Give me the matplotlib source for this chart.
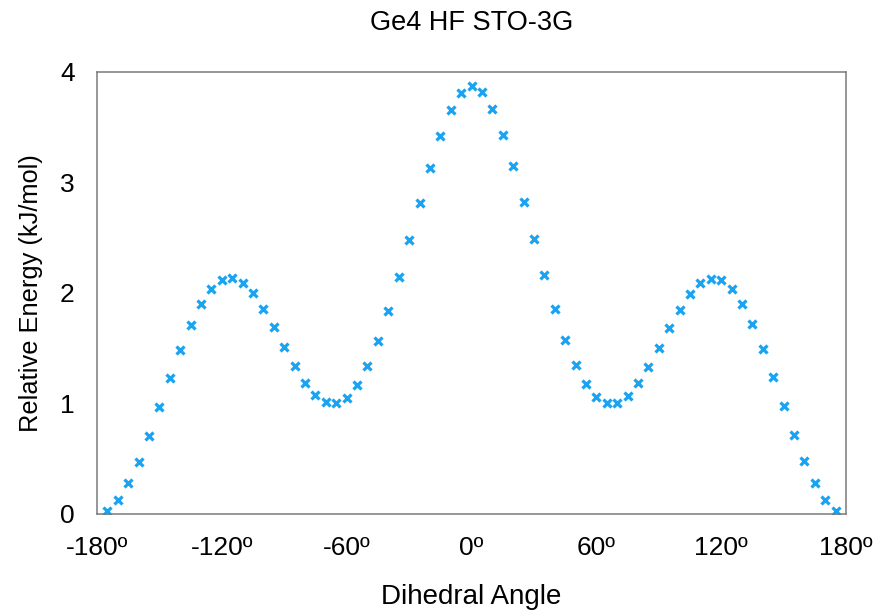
import matplotlib
matplotlib.use("Agg")
import matplotlib.pyplot as plt

# dihedral angle (deg) and relative energy (kJ/mol)
angle = [-175, -170, -165, -160, -155, -150, -145, -140, -135, -130,
         -125, -120, -115, -110, -105, -100, -95, -90, -85, -80,
         -75, -70, -65, -60, -55, -50, -45, -40, -35, -30,
         -25, -20, -15, -10, -5, 0, 5, 10, 15, 20,
         25, 30, 35, 40, 45, 50, 55, 60, 65, 70,
         75, 80, 85, 90, 95, 100, 105, 110, 115, 120,
         125, 130, 135, 140, 145, 150, 155, 160, 165, 170, 175]
energy = [0.03, 0.127, 0.278, 0.473, 0.709, 0.968, 1.231, 1.484, 1.710, 1.900,
          2.039, 2.118, 2.133, 2.093, 1.997, 1.858, 1.692, 1.514, 1.342, 1.188,
          1.077, 1.011, 1.002, 1.053, 1.167, 1.342, 1.566, 1.840, 2.148, 2.477,
          2.812, 3.134, 3.421, 3.656, 3.813, 3.873, 3.816, 3.665, 3.433, 3.146,
          2.826, 2.489, 2.160, 1.852, 1.575, 1.348, 1.173, 1.056, 1.002, 1.008,
          1.071, 1.182, 1.333, 1.505, 1.680, 1.849, 1.988, 2.087, 2.130, 2.115,
          2.039, 1.903, 1.719, 1.493, 1.240, 0.974, 0.715, 0.480, 0.281, 0.127, 0.030]

xticks = [-180, -120, -60, 0, 60, 120, 180]
xticklabels = ["-180º", "-120º", "-60º", "0º", "60º", "120º", "180º"]
yticks = [0, 1, 2, 3, 4]

plt.rcParams['font.family'] = ['Liberation Sans', 'DejaVu Sans']

fig = plt.figure(figsize=(8.78, 6.11), dpi=100)
ax = fig.add_axes([0.1105, 0.1588, 0.8531, 0.7234])

ax.plot(angle, energy, linestyle='none', marker='x', color='#1aa3f0',
        markersize=6, markeredgewidth=2.3)

ax.set_xlim(-180, 180)
ax.set_ylim(0, 4)
ax.set_xticks(xticks)
ax.set_xticklabels(xticklabels, fontsize=19)
ax.set_yticks(yticks)
ax.set_yticklabels([str(v) for v in yticks], fontsize=19)
ax.tick_params(length=0)
ax.tick_params(axis='x', pad=16)
ax.tick_params(axis='y', pad=16)

for s in ax.spines.values():
    s.set_color('#7a7a7a')
    s.set_linewidth(1.1)

ax.set_xlabel("Dihedral Angle", fontsize=20, labelpad=17)
ax.set_ylabel("Relative Energy (kJ/mol)", fontsize=18.3, labelpad=12)
fig.text(0.537, 0.962, "Ge4 HF STO-3G", ha='center', va='center', fontsize=19.5)

fig.savefig("out.png", dpi=100)
